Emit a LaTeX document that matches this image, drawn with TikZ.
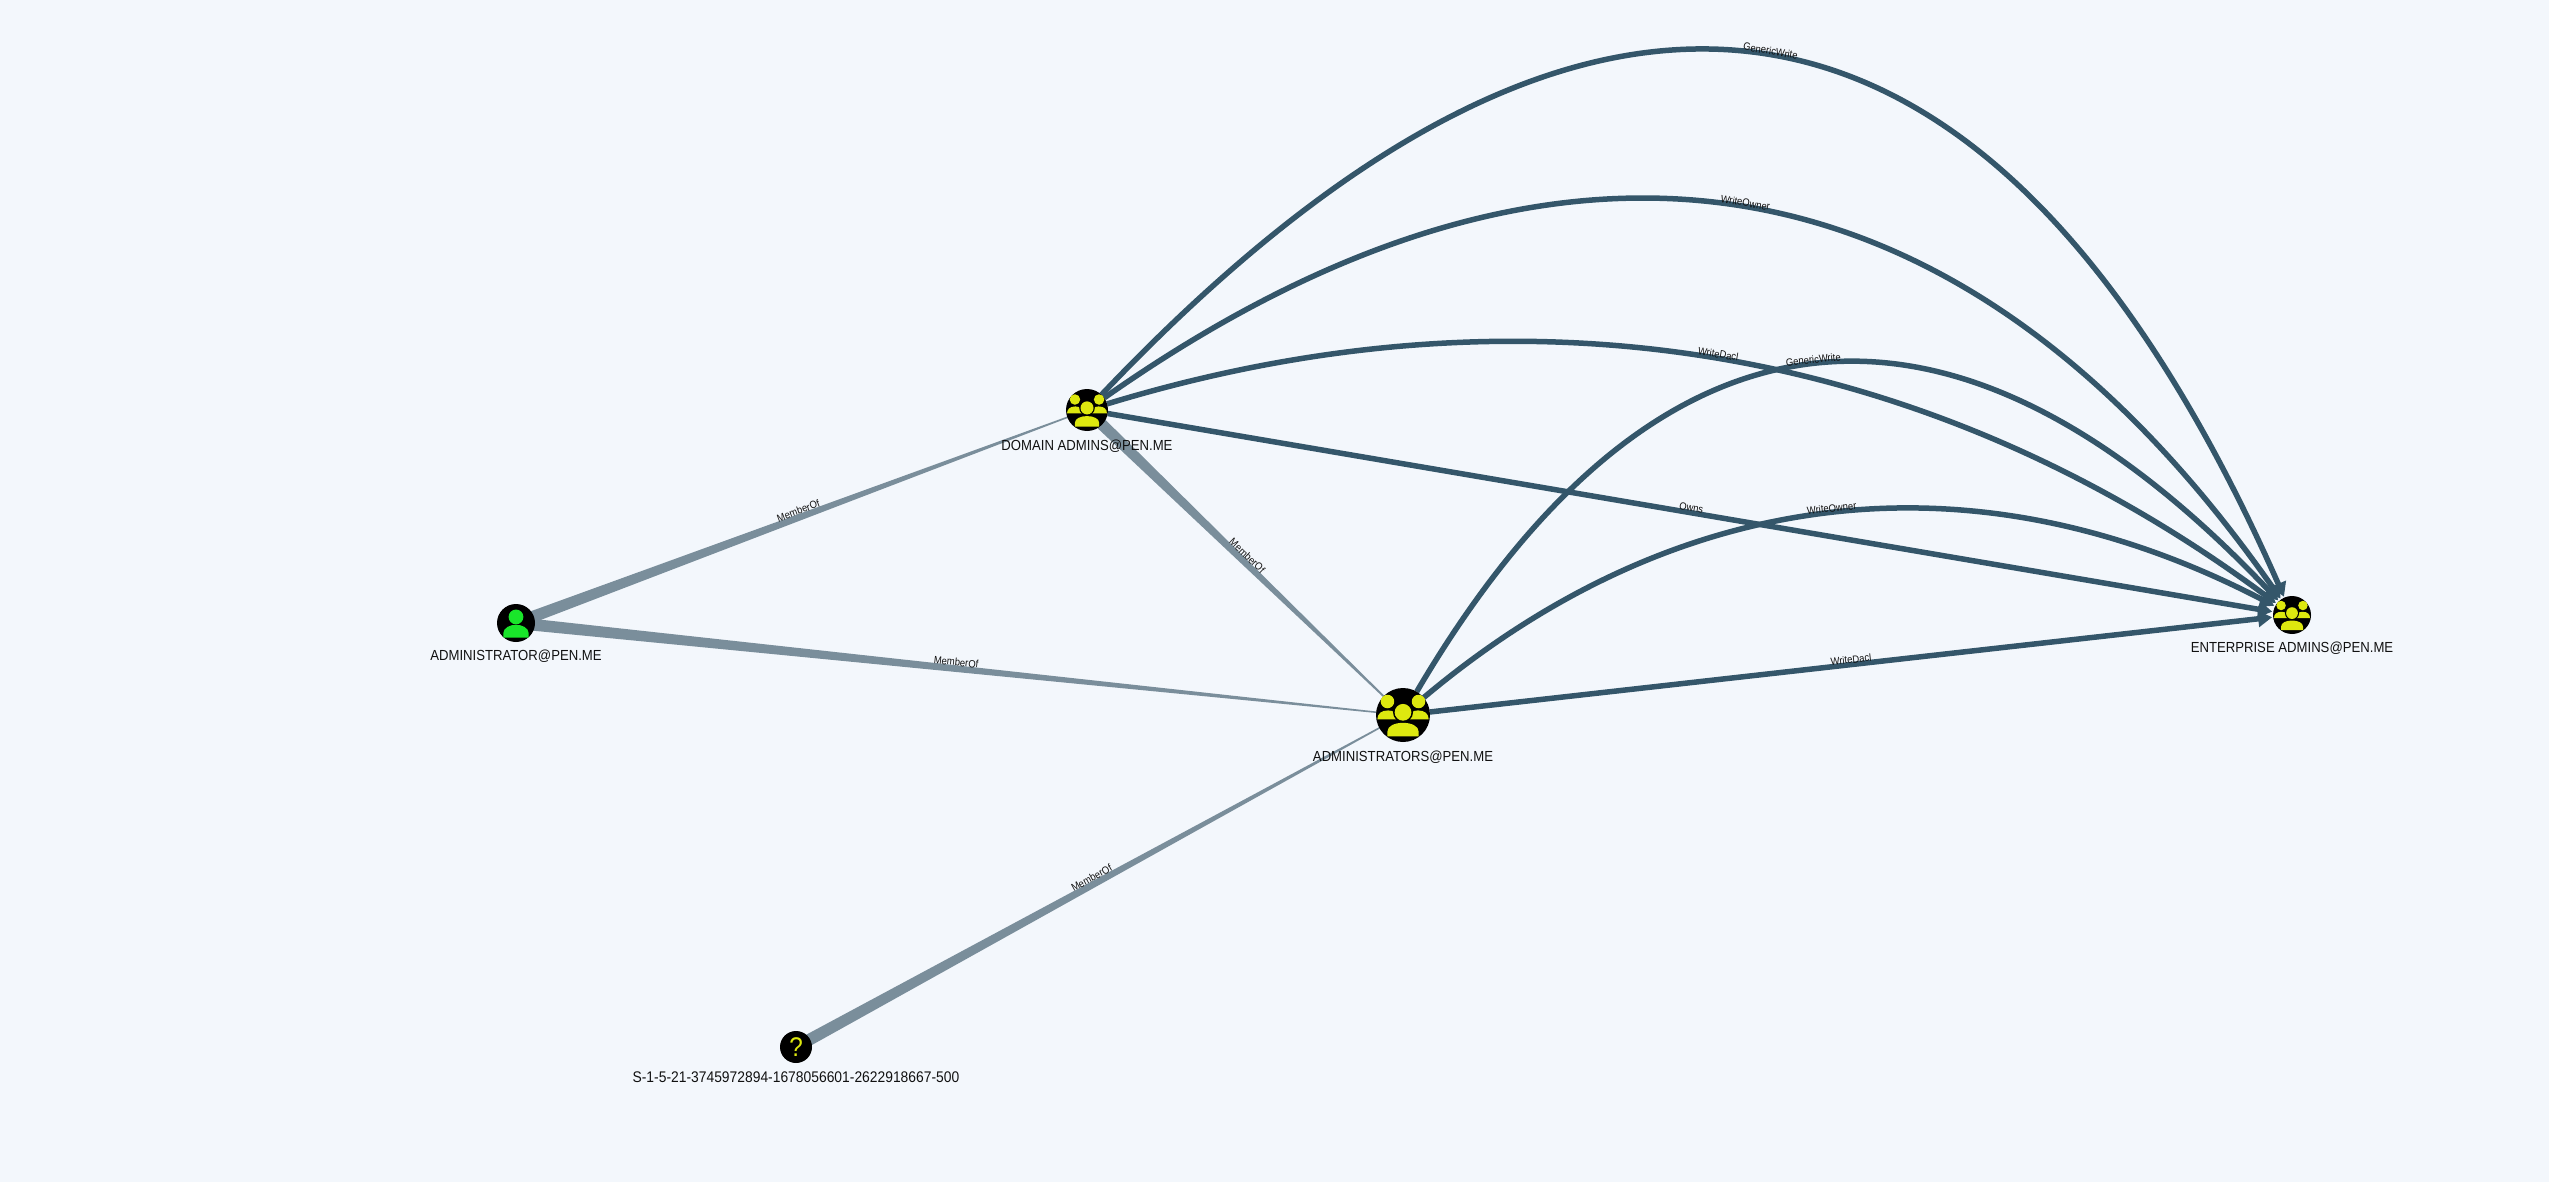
\documentclass[tikz,border=0pt]{standalone}
\usepackage{fontspec}
\setmainfont[FakeStretch=0.9]{Liberation Sans}
\usetikzlibrary{calc,arrows.meta,backgrounds}
\definecolor{pagebg}{HTML}{F3F7FC}
\definecolor{memberedge}{HTML}{7A8E9B}
\definecolor{rightedge}{HTML}{34566A}
\definecolor{groupicon}{HTML}{DDE80F}
\definecolor{usericon}{HTML}{19E62A}
\definecolor{labeltext}{HTML}{111111}
\tikzset{
    bhnode/.style={circle, fill=black, inner sep=0pt, outer sep=0pt},
    nodetext/.style={text=labeltext, inner sep=0pt, font=\fontsize{14.6}{15}\selectfont},
    edgetext/.style={text=labeltext, sloped, inner sep=0pt, anchor=south, yshift=-1.5pt, font=\fontsize{10.5}{10.5}\selectfont},
    rightline/.style={draw=rightedge, line width=5.5pt, shorten >=1pt, -{Triangle[length=14pt,width=16pt]}},
    groupglyph/.pic={
        % side persons
        \fill[groupicon] (-.575,-.5) circle (.25);
        \fill[groupicon] (.575,-.5) circle (.25);
        \fill[groupicon] (-.95,.16) .. controls (-.95,-.05) and (-.8,-.17) .. (-.55,-.17)
            .. controls (-.35,-.17) and (-.2,-.05) .. (-.2,.16) -- cycle;
        \fill[groupicon] (.95,.16) .. controls (.95,-.05) and (.8,-.17) .. (.55,-.17)
            .. controls (.35,-.17) and (.2,-.05) .. (.2,.16) -- cycle;
        % middle person
        \fill[black] (0,-.1) circle (.37);
        \fill[groupicon] (0,-.1) circle (.31);
        \fill[groupicon] (-.58,.79) -- (-.58,.62) .. controls (-.58,.4) and (-.3,.29) .. (0,.29)
            .. controls (.3,.29) and (.58,.4) .. (.58,.62) -- (.58,.79) -- cycle;
    },
    userglyph/.pic={
        \fill[usericon] (0,-.32) circle (.39);
        \fill[usericon] (-.67,.77) -- (-.67,.55) .. controls (-.67,.25) and (-.3,.09) .. (0,.09)
            .. controls (.3,.09) and (.67,.25) .. (.67,.55) -- (.67,.77) -- cycle;
    },
}
% thick at the first node, thin at the second
\newcommand{\memberedge}[2]{
    \fill[memberedge] ($(#1)!6pt!90:(#2)$) -- ($(#2)!.6pt!-90:(#1)$)
        -- ($(#2)!.6pt!90:(#1)$) -- ($(#1)!6pt!-90:(#2)$) -- cycle;
    \path (#1) -- node[edgetext, yshift=4pt] {MemberOf} (#2);
}
\newcommand{\bendedge}[4]{
    \draw[rightline] (#1) .. controls ($(#1)!.667!(#3)$) and ($(#2)!.667!(#3)$)
        .. node[edgetext] {#4} (#2);
}

\begin{document}
\begin{tikzpicture}[x=1pt,y=-1pt]
    \useasboundingbox (0,0) rectangle (2549,1182);
    % nodes
    \node[bhnode, minimum size=42pt] (domain) at (1087,410) {};
    \node[bhnode, minimum size=54pt] (admins) at (1403,715) {};
    \node[bhnode, minimum size=38pt] (enterprise) at (2292,615) {};
    \node[bhnode, minimum size=38pt] (admin) at (516,623) {};
    \node[bhnode, minimum size=32pt, text=groupicon, font=\fontsize{27}{27}\selectfont] (sid) at (796,1047) {?};
    % icons
    \pic[scale=21] at (domain) {groupglyph};
    \pic[scale=27] at (admins) {groupglyph};
    \pic[scale=19] at (enterprise) {groupglyph};
    \pic[scale=19] at (admin) {userglyph};
    % names
    \node[nodetext] (domainname) at (1087,446) {DOMAIN ADMINS@PEN.ME};
    \node[nodetext] (adminsname) at (1403,757) {ADMINISTRATORS@PEN.ME};
    \node[nodetext] (enterprisename) at (2292,648) {ENTERPRISE ADMINS@PEN.ME};
    \node[nodetext] (adminname) at (516,656) {ADMINISTRATOR@PEN.ME};
    \node[nodetext, font=\fontsize{15.4}{15}\selectfont] (sidname) at (796,1077) {S-1-5-21-3745972894-1678056601-2622918667-500};
    % control points
    \coordinate (topwrite) at (1848,-392);
    \coordinate (topowner) at (1798,-90);
    \coordinate (topdacl) at (1744,210);
    \coordinate (lowwrite) at (1780,74);
    \coordinate (lowowner) at (1816,368);
    % edges
    \begin{scope}[on background layer]
        \fill[pagebg] (0,0) rectangle (2549,1182);
        \memberedge{admin}{domain}
        \memberedge{admin}{admins}
        \memberedge{domain}{admins}
        \memberedge{sid}{admins}
        \bendedge{domain}{enterprise}{topwrite}{GenericWrite}
        \bendedge{domain}{enterprise}{topowner}{WriteOwner}
        \bendedge{domain}{enterprise}{topdacl}{WriteDacl}
        \draw[rightline] (domain) -- node[edgetext] {Owns} (enterprise);
        \bendedge{admins}{enterprise}{lowwrite}{GenericWrite}
        \bendedge{admins}{enterprise}{lowowner}{WriteOwner}
        \draw[rightline] (admins) -- node[edgetext] {WriteDacl} (enterprise);
    \end{scope}
\end{tikzpicture}
\end{document}
